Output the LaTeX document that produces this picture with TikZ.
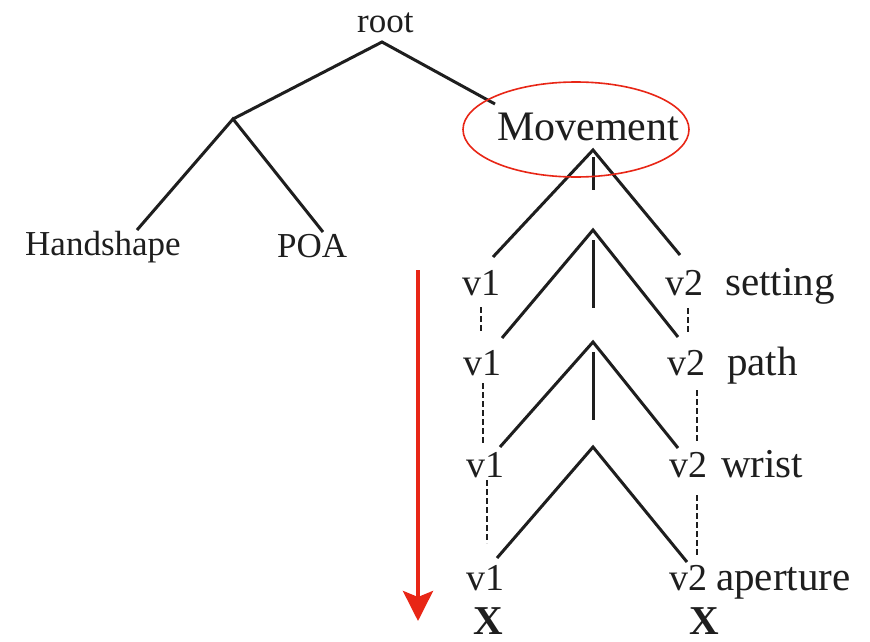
\documentclass[tikz,border=0pt]{standalone}
\usepackage{fontspec}
\setmainfont{Liberation Serif}
\usetikzlibrary{arrows.meta,shapes.geometric}
\definecolor{markred}{RGB}{232,38,22}
\definecolor{ink}{RGB}{30,30,30}
\tikzset{
  treetxt/.style={inner sep=0pt, anchor=base west, text=ink, font=\fontsize{35}{40}\selectfont},
  vtxt/.style={inner sep=0pt, anchor=base west, text=ink, font=\fontsize{38}{44}\selectfont},
  tiertxt/.style={inner sep=0pt, anchor=base west, text=ink, font=\fontsize{41}{46}\selectfont},
  xtxt/.style={inner sep=0pt, anchor=base, text=ink, font=\fontsize{41}{46}\selectfont\bfseries},
  branch/.style={draw=ink, line width=3pt},
  assoc/.style={draw=ink, line width=2.6pt, dash pattern=on 6pt off 3pt},
  hilite/.style={draw=markred, line width=1.6pt},
  flow/.style={draw=markred, line width=4pt, -{Stealth[length=30pt,width=30pt,inset=6pt]}}
}
\begin{document}
\begin{tikzpicture}[x=1pt,y=-1pt]
\useasboundingbox[fill=white] (0,0) rectangle (870,642);

% text nodes
\node[treetxt] (root) at (357,33) {root};
\node[treetxt] (hand) at (25,255) {Handshape};
\node[treetxt] (poa) at (277,257) {POA};
\node[inner sep=0pt, anchor=base west, text=ink, font=\fontsize{42}{46}\selectfont] (mov) at (497,140) {Movement};

\node[vtxt] (v1s) at (462,295) {v1};
\node[vtxt] (v2s) at (665,295) {v2};
\node[tiertxt] (set) at (725,295) {setting};
\node[vtxt] (v1p) at (463,375) {v1};
\node[vtxt] (v2p) at (667,375) {v2};
\node[tiertxt] (pth) at (727,375) {path};
\node[vtxt] (v1w) at (466,477) {v1};
\node[vtxt] (v2w) at (669,477) {v2};
\node[tiertxt] (wri) at (721,477) {wrist};
\node[vtxt] (v1a) at (466,590) {v1};
\node[vtxt] (v2a) at (669,590) {v2};
\node[tiertxt] (ape) at (716,590) {aperture};
\node[xtxt] (x1) at (488,634) {X};
\node[xtxt] (x2) at (704,634) {X};

% junctions and branch ends
\coordinate (rj) at (382,42);
\coordinate (lj) at (233,119);
\coordinate (movIn) at (495,104);
\coordinate (handIn) at (137,230);
\coordinate (poaIn) at (323,232);
\coordinate (a1) at (593,150);
\coordinate (a1l) at (493,257);
\coordinate (a1r) at (680,255);
\coordinate (s1t) at (593,157);
\coordinate (s1b) at (593,190);
\coordinate (a2) at (593,230);
\coordinate (a2l) at (502,338);
\coordinate (a2r) at (678,337);
\coordinate (s2t) at (593,240);
\coordinate (s2b) at (593,308);
\coordinate (a3) at (593,342);
\coordinate (a3l) at (500,447);
\coordinate (a3r) at (678,448);
\coordinate (s3t) at (593,352);
\coordinate (s3b) at (593,420);
\coordinate (a4) at (593,447);
\coordinate (a4l) at (497,558);
\coordinate (a4r) at (687,562);

% dashed association lines
\coordinate (d1a) at (481,307); \coordinate (d1b) at (481,332);
\coordinate (d2a) at (688,308); \coordinate (d2b) at (688,332);
\coordinate (d3a) at (483,383); \coordinate (d3b) at (483,443);
\coordinate (d4a) at (697,390); \coordinate (d4b) at (697,443);
\coordinate (d5a) at (487,480); \coordinate (d5b) at (487,543);
\coordinate (d6a) at (697,495); \coordinate (d6b) at (697,555);

\draw[branch] (movIn) -- (rj) -- (lj);
\draw[branch] (handIn) -- (lj) -- (poaIn);
\draw[branch] (a1l) -- (a1) -- (a1r);
\draw[branch] (s1t) -- (s1b);
\draw[branch] (a2l) -- (a2) -- (a2r);
\draw[branch] (s2t) -- (s2b);
\draw[branch] (a3l) -- (a3) -- (a3r);
\draw[branch] (s3t) -- (s3b);
\draw[branch] (a4l) -- (a4) -- (a4r);

\draw[assoc] (d1a) -- (d1b);
\draw[assoc] (d2a) -- (d2b);
\draw[assoc] (d3a) -- (d3b);
\draw[assoc] (d4a) -- (d4b);
\draw[assoc] (d5a) -- (d5b);
\draw[assoc] (d6a) -- (d6b);

% highlight ellipse and arrow
\node[hilite, ellipse, minimum width=226pt, minimum height=95pt, inner sep=0pt] (ring) at (576,129.5) {};
\coordinate (arTop) at (418,270);
\coordinate (arTip) at (418,621);
\draw[flow] (arTop) -- (arTip);
\end{tikzpicture}
\end{document}
